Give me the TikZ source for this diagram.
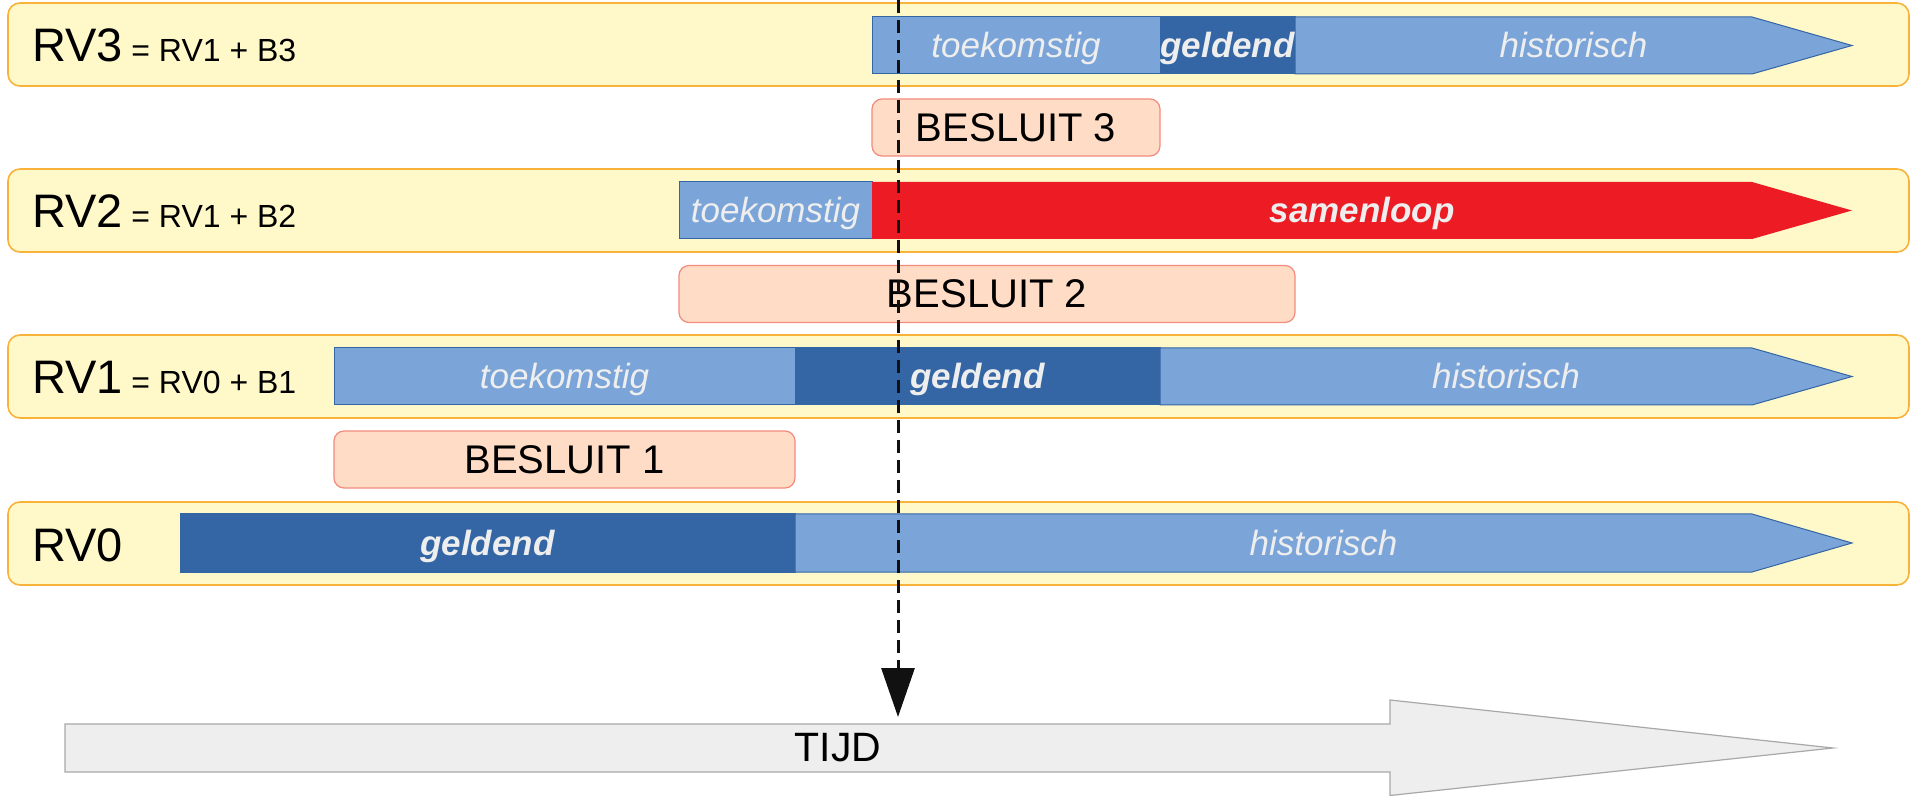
\documentclass[tikz,border=0pt]{standalone}
\usepackage{fontspec}
\setmainfont{Liberation Sans}
\usetikzlibrary{arrows.meta}
\definecolor{bandfill}{HTML}{FFF9C9}
\definecolor{bandline}{HTML}{F9B23A}
\definecolor{lblue}{HTML}{7BA5D8}
\definecolor{dblue}{HTML}{3465A4}
\definecolor{sred}{HTML}{ED1C24}
\definecolor{bfill}{HTML}{FFDCC6}
\definecolor{bline}{HTML}{F28B7C}
\definecolor{tijdfill}{HTML}{EEEEEE}
\definecolor{tijdline}{HTML}{A8A8A8}
\definecolor{bartext}{HTML}{EEEEEE}
\definecolor{nowline}{HTML}{111111}
\tikzset{
  band/.style={draw=bandline, fill=bandfill, line width=0.8pt, rounded corners=6pt,
    minimum width=950.5pt, minimum height=41.5pt, inner sep=0pt},
  besluitbox/.style={draw=bline, fill=bfill, line width=0.6pt, rounded corners=5pt,
    minimum height=28.5pt, inner sep=0pt, text=black, font=\fontsize{20}{24}\selectfont},
  seglight/.style={fill=lblue, draw=dblue, line width=0.5pt},
  segdark/.style={fill=dblue, draw=dblue, line width=0.5pt},
  segred/.style={fill=sred},
  segtext/.style={text=bartext, inner sep=0pt, anchor=base, yshift=-6.25pt,
    font=\fontsize{17.5}{20}\selectfont\itshape},
  segbold/.style={text=bartext, inner sep=0pt, anchor=base, yshift=-6.25pt,
    font=\fontsize{17.5}{20}\selectfont\bfseries\itshape},
  rvbig/.style={anchor=base west, inner sep=0pt, font=\fontsize{23.5}{28}\selectfont},
  rvsmall/.style={anchor=base west, inner sep=0pt, font=\fontsize{16}{19}\selectfont},
  tijdarrow/.style={fill=tijdfill, draw=tijdline, line width=0.6pt},
  nowarrow/.style={draw=nowline, line width=1.5pt, dash pattern=on 6.5pt off 3.5pt,
    -{Triangle[length=24.5pt,width=16.5pt]}},
}
\begin{document}
\begin{tikzpicture}[x=0.5pt, y=-0.5pt]
\useasboundingbox (0,0) rectangle (1912,796);

% ---------- bands ----------
\node[band] (rv3band) at (958.5,44.5) {};
\node[band] (rv2band) at (958.5,210.5) {};
\node[band] (rv1band) at (958.5,376.5) {};
\node[band] (rv0band) at (958.5,543.5) {};

% ---------- band labels ----------
\node[rvbig] (rv3) at (32,62) {RV3};
\node[rvsmall] (rv3eq) at (131,62) {= RV1 + B3};
\node[rvbig] (rv2) at (32,228) {RV2};
\node[rvsmall] (rv2eq) at (131,228) {= RV1 + B2};
\node[rvbig] (rv1) at (32,394) {RV1};
\node[rvsmall] (rv1eq) at (131,394) {= RV0 + B1};
\node[rvbig] (rv0) at (32,561) {RV0};

% ---------- RV3 bar ----------
\draw[seglight] (872,17) rectangle (1160,74);
\draw[segdark] (1160,17) rectangle (1295,74);
\draw[seglight] (1295,17) -- (1752,17) -- (1852,45.5) -- (1752,74) -- (1295,74) -- cycle;
\node[segtext] (rv3toek) at (1016,45.5) {toekomstig};
\node[segbold] (rv3geld) at (1227.5,45.5) {geldend};
\node[segtext] (rv3hist) at (1573.5,45.5) {historisch};

% ---------- BESLUIT 3 ----------
\node[besluitbox, minimum width=144pt] (b3) at (1016,127.5) {BESLUIT 3};

% ---------- RV2 bar ----------
\draw[seglight] (679,182) rectangle (872,239);
\fill[segred] (872,182) -- (1752,182) -- (1852,210.5) -- (1752,239) -- (872,239) -- cycle;
\node[segtext] (rv2toek) at (775.5,210.5) {toekomstig};
\node[segbold] (rv2samen) at (1362,210.5) {samenloop};

% ---------- BESLUIT 2 ----------
\node[besluitbox, minimum width=308pt] (b2) at (987,294) {BESLUIT 2};

% ---------- RV1 bar ----------
\draw[seglight] (334,348) rectangle (795,405);
\draw[segdark] (795,348) rectangle (1160,405);
\draw[seglight] (1160,348) -- (1752,348) -- (1852,376.5) -- (1752,405) -- (1160,405) -- cycle;
\node[segtext] (rv1toek) at (564.5,376.5) {toekomstig};
\node[segbold] (rv1geld) at (977.5,376.5) {geldend};
\node[segtext] (rv1hist) at (1506,376.5) {historisch};

% ---------- BESLUIT 1 ----------
\node[besluitbox, minimum width=230.5pt] (b1) at (564.5,459.5) {BESLUIT 1};

% ---------- RV0 bar ----------
\draw[segdark] (180,514) rectangle (795,572);
\draw[seglight] (795,514) -- (1752,514) -- (1852,543) -- (1752,572) -- (795,572) -- cycle;
\node[segbold] (rv0geld) at (487.5,543) {geldend};
\node[segtext] (rv0hist) at (1323.5,543) {historisch};

% ---------- TIJD arrow ----------
\draw[tijdarrow] (65,724) -- (1390,724) -- (1390,700) -- (1833,748) -- (1390,795.5)
  -- (1390,772) -- (65,772) -- cycle;
\node[inner sep=0pt, font=\fontsize{20.5}{24}\selectfont] (tijd) at (838,748) {TIJD};

% ---------- now line ----------
\coordinate (now) at (898,0);
\coordinate (nowend) at (898,717);
\draw[nowarrow] (now) -- (nowend);
\end{tikzpicture}
\end{document}
